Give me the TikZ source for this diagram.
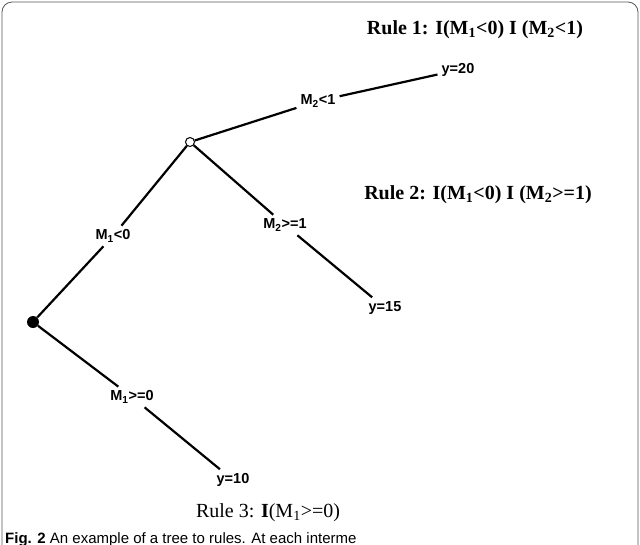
\documentclass[tikz,border=0pt]{standalone}
\usepackage{fontspec}
\setmainfont{Liberation Serif}
\setsansfont{Liberation Sans}
\begin{document}
\begin{tikzpicture}[x=1pt,y=-1pt,
  lab/.style={font=\sffamily\bfseries\fontsize{14.5}{14.5}\selectfont,inner sep=4pt},
  rule/.style={font=\bfseries\fontsize{20}{20}\selectfont,inner sep=0pt},
  edge/.style={line width=2.2pt}]
\useasboundingbox (0,0) rectangle (640,544);
\fill[white] (0,0) rectangle (640,544);
\draw[gray!70!black,line width=0.8pt,rounded corners=10pt] (2,2) -- (638,2) -- (638,560) -- (2,560) -- cycle;
\node[circle,draw,fill=white,line width=1pt,inner sep=0pt,minimum size=9pt] (root) at (190,142) {};
\node[circle,fill=black,inner sep=0pt,minimum size=12pt] (blk) at (33,322) {};
\node[lab] (a) at (318,101) {M\textsubscript{2}<1};
\node[lab] (l20) at (458,70) {y=20};
\node[lab] (b) at (113,236) {M\textsubscript{1}<0};
\node[lab] (c) at (285,225) {M\textsubscript{2}>=1};
\node[lab] (l15) at (385,308) {y=15};
\node[lab] (d) at (132,397) {M\textsubscript{1}>=0};
\node[lab] (l10) at (233,480) {y=10};
\draw[edge] (root) -- (a) -- (l20);
\draw[edge] (root) -- (b) -- (blk);
\draw[edge] (root) -- (c) -- (l15);
\draw[edge] (blk) -- (d) -- (l10);
\node[rule] (r1) at (475,30) {Rule 1: I(M\textsubscript{1}<0) I (M\textsubscript{2}<1)};
\node[rule] (r2) at (478,195) {Rule 2: I(M\textsubscript{1}<0) I (M\textsubscript{2}>=1)};
\node[rule] (r3) at (268,513) {\mdseries Rule 3: \bfseries I\mdseries(M\textsubscript{1}>=0)};
\node[anchor=base west,inner sep=0pt,font=\sffamily\fontsize{15}{15}\selectfont] (cap) at (5,543) {\textbf{Fig. 2} An example of a tree to rules. At each interme};
\end{tikzpicture}
\end{document}
